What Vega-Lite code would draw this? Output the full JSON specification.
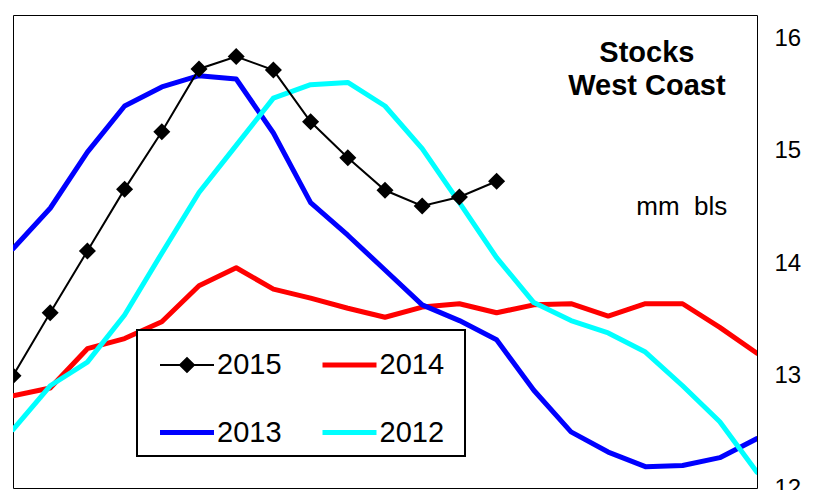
{
  "$schema": "https://vega.github.io/schema/vega-lite/v6.json",
  "width": 744,
  "height": 473,
  "autosize": {"type": "none"},
  "padding": {"left": 13, "top": 15, "right": 61, "bottom": 2},
  "background": "white",
  "config": {
    "view": {"stroke": "#000000", "strokeWidth": 1},
    "font": "Liberation Sans"
  },
  "datasets": {
    "stocks": [
      {"year": "2014", "week": 0, "v": 12.82}, {"year": "2014", "week": 1, "v": 12.89}, {"year": "2014", "week": 2, "v": 13.24}, {"year": "2014", "week": 3, "v": 13.33}, {"year": "2014", "week": 4, "v": 13.48}, {"year": "2014", "week": 5, "v": 13.80}, {"year": "2014", "week": 6, "v": 13.96}, {"year": "2014", "week": 7, "v": 13.77}, {"year": "2014", "week": 8, "v": 13.69}, {"year": "2014", "week": 9, "v": 13.60}, {"year": "2014", "week": 10, "v": 13.52}, {"year": "2014", "week": 11, "v": 13.61}, {"year": "2014", "week": 12, "v": 13.64}, {"year": "2014", "week": 13, "v": 13.56}, {"year": "2014", "week": 14, "v": 13.63}, {"year": "2014", "week": 15, "v": 13.64}, {"year": "2014", "week": 16, "v": 13.53}, {"year": "2014", "week": 17, "v": 13.64}, {"year": "2014", "week": 18, "v": 13.64}, {"year": "2014", "week": 19, "v": 13.43}, {"year": "2014", "week": 20, "v": 13.20},
      {"year": "2013", "week": 0, "v": 14.13}, {"year": "2013", "week": 1, "v": 14.49}, {"year": "2013", "week": 2, "v": 14.99}, {"year": "2013", "week": 3, "v": 15.40}, {"year": "2013", "week": 4, "v": 15.57}, {"year": "2013", "week": 5, "v": 15.67}, {"year": "2013", "week": 6, "v": 15.64}, {"year": "2013", "week": 7, "v": 15.16}, {"year": "2013", "week": 8, "v": 14.54}, {"year": "2013", "week": 9, "v": 14.25}, {"year": "2013", "week": 10, "v": 13.94}, {"year": "2013", "week": 11, "v": 13.63}, {"year": "2013", "week": 12, "v": 13.49}, {"year": "2013", "week": 13, "v": 13.32}, {"year": "2013", "week": 14, "v": 12.87}, {"year": "2013", "week": 15, "v": 12.50}, {"year": "2013", "week": 16, "v": 12.32}, {"year": "2013", "week": 17, "v": 12.19}, {"year": "2013", "week": 18, "v": 12.20}, {"year": "2013", "week": 19, "v": 12.27}, {"year": "2013", "week": 20, "v": 12.44},
      {"year": "2012", "week": 0, "v": 12.52}, {"year": "2012", "week": 1, "v": 12.91}, {"year": "2012", "week": 2, "v": 13.12}, {"year": "2012", "week": 3, "v": 13.54}, {"year": "2012", "week": 4, "v": 14.09}, {"year": "2012", "week": 5, "v": 14.63}, {"year": "2012", "week": 6, "v": 15.05}, {"year": "2012", "week": 7, "v": 15.47}, {"year": "2012", "week": 8, "v": 15.59}, {"year": "2012", "week": 9, "v": 15.61}, {"year": "2012", "week": 10, "v": 15.40}, {"year": "2012", "week": 11, "v": 15.02}, {"year": "2012", "week": 12, "v": 14.54}, {"year": "2012", "week": 13, "v": 14.05}, {"year": "2012", "week": 14, "v": 13.65}, {"year": "2012", "week": 15, "v": 13.49}, {"year": "2012", "week": 16, "v": 13.38}, {"year": "2012", "week": 17, "v": 13.21}, {"year": "2012", "week": 18, "v": 12.91}, {"year": "2012", "week": 19, "v": 12.59}, {"year": "2012", "week": 20, "v": 12.14},
      {"year": "2015", "week": 0, "v": 13.00}, {"year": "2015", "week": 1, "v": 13.56}, {"year": "2015", "week": 2, "v": 14.11}, {"year": "2015", "week": 3, "v": 14.66}, {"year": "2015", "week": 4, "v": 15.17}, {"year": "2015", "week": 5, "v": 15.73}, {"year": "2015", "week": 6, "v": 15.84}, {"year": "2015", "week": 7, "v": 15.72}, {"year": "2015", "week": 8, "v": 15.26}, {"year": "2015", "week": 9, "v": 14.94}, {"year": "2015", "week": 10, "v": 14.65}, {"year": "2015", "week": 11, "v": 14.51}, {"year": "2015", "week": 12, "v": 14.59}, {"year": "2015", "week": 13, "v": 14.73}
    ],
    "notes": [
      {"note": "Stocks\nWest Coast", "kind": "title"},
      {"note": "mm\u00a0\u00a0bls", "kind": "unit"}
    ]
  },
  "layer": [
    {
      "data": {"name": "stocks"},
      "transform": [{"filter": "datum.year !== '2015'"}],
      "mark": {"type": "line", "clip": true, "strokeWidth": 5, "strokeCap": "round", "strokeJoin": "round"},
      "encoding": {
        "x": {"field": "week", "type": "quantitative", "scale": {"domain": [0, 20], "nice": false, "zero": false}, "axis": null},
        "y": {"field": "v", "type": "quantitative", "scale": {"domain": [12, 16.21], "nice": false, "zero": false},
              "axis": {"orient": "right", "values": [12, 13, 14, 15, 16], "format": "d", "title": null, "domain": false, "ticks": false, "grid": false,
                       "labelFontSize": 24, "labelFont": "Liberation Sans", "labelColor": "#000000", "labelPadding": 17}},
        "color": {"field": "year", "type": "nominal",
                  "scale": {"domain": ["2015", "2013", "2014", "2012"], "range": ["#000000", "#0000FF", "#FF0000", "#00FFFF"]},
                  "legend": {
                    "title": ".", "titleOrient": "right", "titleFontSize": 2, "titleOpacity": 0, "titlePadding": 12,
                    "orient": "none", "legendX": 124, "legendY": 315, "columns": 2,
                    "labelFontSize": 29, "labelFont": "Liberation Sans", "labelColor": "#000000",
                    "symbolSize": 2916, "symbolType": "M-1,-0.0926H1V0.0926H-1Z", "symbolStrokeWidth": 0,
                    "labelOffset": 3, "symbolOffset": 15,
                    "columnPadding": 25.5, "rowPadding": 25.5, "padding": 8,
                    "strokeColor": "#000000", "fillColor": "#FFFFFF",
                    "encode": {
                      "symbols": {
                        "update": {
                          "shape": {"signal": "datum.value === '2015' ? 'M-1,-0.037H1V0.037H-1ZM-0.31,0L0,-0.31L0.31,0L0,0.31Z' : 'M-1,-0.0926H1V0.0926H-1Z'"},
                          "fill": {"scale": "color", "field": "value"},
                          "fillOpacity": {"value": 1}
                        }
                      },
                      "legend": {"update": {"strokeWidth": {"value": 2}}}
                    }
                  }},
        "order": {"field": "week", "type": "quantitative"}
      }
    },
    {
      "data": {"name": "stocks"},
      "transform": [{"filter": "datum.year === '2015'"}],
      "mark": {"type": "line", "clip": true, "strokeWidth": 2},
      "encoding": {
        "x": {"field": "week", "type": "quantitative"},
        "y": {"field": "v", "type": "quantitative"},
        "color": {"field": "year", "type": "nominal"},
        "order": {"field": "week", "type": "quantitative"}
      }
    },
    {
      "data": {"name": "stocks"},
      "transform": [{"filter": "datum.year === '2015'"}],
      "mark": {"type": "point", "shape": "diamond", "filled": true, "color": "#000000", "size": 290, "opacity": 1, "clip": true},
      "encoding": {
        "x": {"field": "week", "type": "quantitative"},
        "y": {"field": "v", "type": "quantitative"}
      }
    },
    {
      "data": {"name": "notes"},
      "transform": [{"filter": "datum.kind === 'title'"}],
      "mark": {"type": "text", "font": "Liberation Sans", "fontWeight": "bold", "fontSize": 29, "align": "center", "baseline": "alphabetic", "lineBreak": "\n", "lineHeight": 33, "color": "#000000"},
      "encoding": {
        "x": {"datum": 17.04, "type": "quantitative"},
        "y": {"datum": 15.79, "type": "quantitative"},
        "text": {"field": "note"}
      }
    },
    {
      "data": {"name": "notes"},
      "transform": [{"filter": "datum.kind === 'unit'"}],
      "mark": {"type": "text", "font": "Liberation Sans", "fontSize": 26, "align": "center", "baseline": "alphabetic", "color": "#000000"},
      "encoding": {
        "x": {"datum": 17.98, "type": "quantitative"},
        "y": {"datum": 14.43, "type": "quantitative"},
        "text": {"field": "note"}
      }
    }
  ]
}
